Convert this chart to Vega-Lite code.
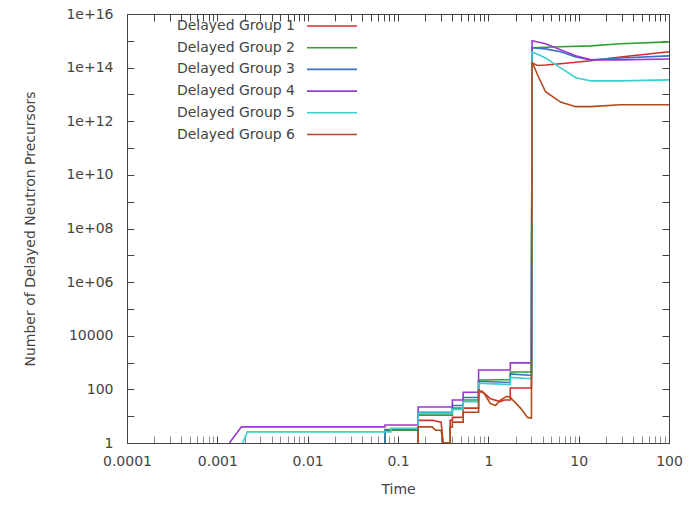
{
  "$schema": "https://vega.github.io/schema/vega-lite/v6.json",
  "width": 542,
  "height": 429,
  "autosize": {"type": "none"},
  "padding": {"left": 127, "top": 14, "right": 26, "bottom": 63},
  "background": "white",
  "config": {
    "view": {"stroke": "#444444", "strokeWidth": 1},
    "font": "DejaVu Sans",
    "axis": {"labelFont": "DejaVu Sans", "titleFont": "DejaVu Sans", "labelColor": "#444444", "titleColor": "#444444", "titleFontWeight": "normal", "labelFontSize": 14, "titleFontSize": 14, "grid": false, "tickColor": "#444444", "domain": false, "labelFlush": false, "labelOverlap": false}
  },
  "data": {"values": [
    {"g":"Delayed Group 1","i":1,"t":0.167,"n":1},
    {"g":"Delayed Group 1","i":2,"t":0.167,"n":7},
    {"g":"Delayed Group 1","i":3,"t":0.24,"n":7},
    {"g":"Delayed Group 1","i":4,"t":0.3,"n":6},
    {"g":"Delayed Group 1","i":5,"t":0.316,"n":1},
    {"g":"Delayed Group 1","i":6,"t":0.378,"n":1},
    {"g":"Delayed Group 1","i":7,"t":0.378,"n":7},
    {"g":"Delayed Group 1","i":8,"t":0.4,"n":7},
    {"g":"Delayed Group 1","i":9,"t":0.4,"n":9},
    {"g":"Delayed Group 1","i":10,"t":0.527,"n":9},
    {"g":"Delayed Group 1","i":11,"t":0.527,"n":20},
    {"g":"Delayed Group 1","i":12,"t":0.78,"n":20},
    {"g":"Delayed Group 1","i":13,"t":0.78,"n":75},
    {"g":"Delayed Group 1","i":14,"t":0.85,"n":85},
    {"g":"Delayed Group 1","i":15,"t":1.05,"n":45},
    {"g":"Delayed Group 1","i":16,"t":1.36,"n":35},
    {"g":"Delayed Group 1","i":17,"t":1.5,"n":40},
    {"g":"Delayed Group 1","i":18,"t":1.75,"n":40},
    {"g":"Delayed Group 1","i":19,"t":1.75,"n":113},
    {"g":"Delayed Group 1","i":20,"t":3.0,"n":113},
    {"g":"Delayed Group 1","i":21,"t":3.05,"n":1.5e14},
    {"g":"Delayed Group 1","i":22,"t":3.5,"n":1.2e14},
    {"g":"Delayed Group 1","i":23,"t":4.3,"n":1.25e14},
    {"g":"Delayed Group 1","i":24,"t":6.3,"n":1.4e14},
    {"g":"Delayed Group 1","i":25,"t":13.6,"n":1.8e14},
    {"g":"Delayed Group 1","i":26,"t":29,"n":2.5e14},
    {"g":"Delayed Group 1","i":27,"t":100,"n":3.9e14},

    {"g":"Delayed Group 2","i":1,"t":0.0718,"n":1},
    {"g":"Delayed Group 2","i":2,"t":0.0718,"n":3},
    {"g":"Delayed Group 2","i":3,"t":0.167,"n":3},
    {"g":"Delayed Group 2","i":4,"t":0.167,"n":11},
    {"g":"Delayed Group 2","i":5,"t":0.4,"n":11},
    {"g":"Delayed Group 2","i":6,"t":0.4,"n":20},
    {"g":"Delayed Group 2","i":7,"t":0.527,"n":20},
    {"g":"Delayed Group 2","i":8,"t":0.527,"n":40},
    {"g":"Delayed Group 2","i":9,"t":0.78,"n":40},
    {"g":"Delayed Group 2","i":10,"t":0.78,"n":225},
    {"g":"Delayed Group 2","i":11,"t":1.3,"n":230},
    {"g":"Delayed Group 2","i":12,"t":1.75,"n":230},
    {"g":"Delayed Group 2","i":13,"t":1.75,"n":446},
    {"g":"Delayed Group 2","i":14,"t":3.0,"n":446},
    {"g":"Delayed Group 2","i":15,"t":3.05,"n":5.5e14},
    {"g":"Delayed Group 2","i":16,"t":6.3,"n":6.0e14},
    {"g":"Delayed Group 2","i":17,"t":13.6,"n":6.5e14},
    {"g":"Delayed Group 2","i":18,"t":29,"n":7.8e14},
    {"g":"Delayed Group 2","i":19,"t":100,"n":9.1e14},

    {"g":"Delayed Group 3","i":1,"t":0.0718,"n":1},
    {"g":"Delayed Group 3","i":2,"t":0.0718,"n":3.2},
    {"g":"Delayed Group 3","i":3,"t":0.167,"n":3.2},
    {"g":"Delayed Group 3","i":4,"t":0.167,"n":14},
    {"g":"Delayed Group 3","i":5,"t":0.4,"n":14},
    {"g":"Delayed Group 3","i":6,"t":0.4,"n":25},
    {"g":"Delayed Group 3","i":7,"t":0.527,"n":25},
    {"g":"Delayed Group 3","i":8,"t":0.527,"n":50},
    {"g":"Delayed Group 3","i":9,"t":0.78,"n":50},
    {"g":"Delayed Group 3","i":10,"t":0.78,"n":200},
    {"g":"Delayed Group 3","i":11,"t":1.75,"n":180},
    {"g":"Delayed Group 3","i":12,"t":1.75,"n":380},
    {"g":"Delayed Group 3","i":13,"t":3.0,"n":330},
    {"g":"Delayed Group 3","i":14,"t":3.05,"n":5.5e14},
    {"g":"Delayed Group 3","i":15,"t":4.3,"n":5.0e14},
    {"g":"Delayed Group 3","i":16,"t":6.3,"n":3.9e14},
    {"g":"Delayed Group 3","i":17,"t":9.3,"n":2.5e14},
    {"g":"Delayed Group 3","i":18,"t":13.6,"n":1.95e14},
    {"g":"Delayed Group 3","i":19,"t":29,"n":2.3e14},
    {"g":"Delayed Group 3","i":20,"t":100,"n":2.75e14},

    {"g":"Delayed Group 4","i":1,"t":0.00136,"n":1},
    {"g":"Delayed Group 4","i":2,"t":0.00185,"n":4},
    {"g":"Delayed Group 4","i":3,"t":0.0718,"n":4},
    {"g":"Delayed Group 4","i":4,"t":0.0718,"n":4.7},
    {"g":"Delayed Group 4","i":5,"t":0.167,"n":4.7},
    {"g":"Delayed Group 4","i":6,"t":0.167,"n":22},
    {"g":"Delayed Group 4","i":7,"t":0.4,"n":22},
    {"g":"Delayed Group 4","i":8,"t":0.4,"n":40},
    {"g":"Delayed Group 4","i":9,"t":0.527,"n":40},
    {"g":"Delayed Group 4","i":10,"t":0.527,"n":78},
    {"g":"Delayed Group 4","i":11,"t":0.78,"n":78},
    {"g":"Delayed Group 4","i":12,"t":0.78,"n":530},
    {"g":"Delayed Group 4","i":13,"t":1.75,"n":530},
    {"g":"Delayed Group 4","i":14,"t":1.75,"n":970},
    {"g":"Delayed Group 4","i":15,"t":3.0,"n":970},
    {"g":"Delayed Group 4","i":16,"t":3.05,"n":1.0e15},
    {"g":"Delayed Group 4","i":17,"t":4.3,"n":7.8e14},
    {"g":"Delayed Group 4","i":18,"t":6.3,"n":4.6e14},
    {"g":"Delayed Group 4","i":19,"t":9.3,"n":2.75e14},
    {"g":"Delayed Group 4","i":20,"t":13.6,"n":1.95e14},
    {"g":"Delayed Group 4","i":21,"t":29,"n":1.95e14},
    {"g":"Delayed Group 4","i":22,"t":100,"n":2.1e14},

    {"g":"Delayed Group 5","i":1,"t":0.0019,"n":1},
    {"g":"Delayed Group 5","i":2,"t":0.00215,"n":2.6},
    {"g":"Delayed Group 5","i":3,"t":0.0836,"n":2.6},
    {"g":"Delayed Group 5","i":4,"t":0.0836,"n":3.5},
    {"g":"Delayed Group 5","i":5,"t":0.167,"n":3.5},
    {"g":"Delayed Group 5","i":6,"t":0.167,"n":13},
    {"g":"Delayed Group 5","i":7,"t":0.4,"n":13},
    {"g":"Delayed Group 5","i":8,"t":0.4,"n":18},
    {"g":"Delayed Group 5","i":9,"t":0.527,"n":18},
    {"g":"Delayed Group 5","i":10,"t":0.527,"n":35},
    {"g":"Delayed Group 5","i":11,"t":0.78,"n":35},
    {"g":"Delayed Group 5","i":12,"t":0.78,"n":170},
    {"g":"Delayed Group 5","i":13,"t":1.75,"n":150},
    {"g":"Delayed Group 5","i":14,"t":1.75,"n":280},
    {"g":"Delayed Group 5","i":15,"t":3.0,"n":250},
    {"g":"Delayed Group 5","i":16,"t":3.05,"n":3.9e14},
    {"g":"Delayed Group 5","i":17,"t":4.3,"n":2.3e14},
    {"g":"Delayed Group 5","i":18,"t":6.3,"n":9.8e13},
    {"g":"Delayed Group 5","i":19,"t":9.3,"n":4.2e13},
    {"g":"Delayed Group 5","i":20,"t":13.6,"n":3.2e13},
    {"g":"Delayed Group 5","i":21,"t":29,"n":3.2e13},
    {"g":"Delayed Group 5","i":22,"t":100,"n":3.5e13},

    {"g":"Delayed Group 6","i":1,"t":0.167,"n":1},
    {"g":"Delayed Group 6","i":2,"t":0.167,"n":4},
    {"g":"Delayed Group 6","i":3,"t":0.239,"n":4},
    {"g":"Delayed Group 6","i":4,"t":0.26,"n":3},
    {"g":"Delayed Group 6","i":5,"t":0.3,"n":3},
    {"g":"Delayed Group 6","i":6,"t":0.316,"n":1},
    {"g":"Delayed Group 6","i":7,"t":0.378,"n":1},
    {"g":"Delayed Group 6","i":8,"t":0.378,"n":4},
    {"g":"Delayed Group 6","i":9,"t":0.4,"n":4},
    {"g":"Delayed Group 6","i":10,"t":0.4,"n":6},
    {"g":"Delayed Group 6","i":11,"t":0.527,"n":6},
    {"g":"Delayed Group 6","i":12,"t":0.527,"n":14},
    {"g":"Delayed Group 6","i":13,"t":0.78,"n":14},
    {"g":"Delayed Group 6","i":14,"t":0.78,"n":95},
    {"g":"Delayed Group 6","i":15,"t":0.9,"n":70},
    {"g":"Delayed Group 6","i":16,"t":1.05,"n":30},
    {"g":"Delayed Group 6","i":17,"t":1.2,"n":25},
    {"g":"Delayed Group 6","i":18,"t":1.36,"n":40},
    {"g":"Delayed Group 6","i":19,"t":1.6,"n":55},
    {"g":"Delayed Group 6","i":20,"t":1.75,"n":50},
    {"g":"Delayed Group 6","i":21,"t":2.27,"n":20},
    {"g":"Delayed Group 6","i":22,"t":2.71,"n":9},
    {"g":"Delayed Group 6","i":23,"t":3.0,"n":8.5},
    {"g":"Delayed Group 6","i":24,"t":3.05,"n":1.66e14},
    {"g":"Delayed Group 6","i":25,"t":3.5,"n":5.4e13},
    {"g":"Delayed Group 6","i":26,"t":4.3,"n":1.26e13},
    {"g":"Delayed Group 6","i":27,"t":6.3,"n":5.2e12},
    {"g":"Delayed Group 6","i":28,"t":9.3,"n":3.5e12},
    {"g":"Delayed Group 6","i":29,"t":13.6,"n":3.5e12},
    {"g":"Delayed Group 6","i":30,"t":29,"n":4.1e12},
    {"g":"Delayed Group 6","i":31,"t":100,"n":4.1e12}
  ]},
  "resolve": {"axis": {"x": "independent", "y": "independent"}},
  "layer": [
    {
      "mark": {"type": "line", "strokeWidth": 1.6, "clip": true, "interpolate": "linear"},
      "encoding": {
        "x": {"field": "t", "type": "quantitative", "scale": {"type": "log", "domain": [0.0001, 100], "nice": false},
          "axis": {"orient": "bottom", "tickSize": -7, "labelPadding": 18, "title": "Time", "titlePadding": 14,
            "values": [0.0001,0.0002,0.0003,0.0004,0.0005,0.0006,0.0007,0.0008,0.0009,0.001,0.002,0.003,0.004,0.005,0.006,0.007,0.008,0.009,0.01,0.02,0.03,0.04,0.05,0.06,0.07,0.08,0.09,0.1,0.2,0.3,0.4,0.5,0.6,0.7,0.8,0.9,1,2,3,4,5,6,7,8,9,10,20,30,40,50,60,70,80,90,100],
            "tickOpacity": {"condition": {"test": "abs(log(datum.value)/LN10 - round(log(datum.value)/LN10)) < 0.001", "value": 1}, "value": 0.6},
            "labelExpr": "abs(log(datum.value)/LN10 - round(log(datum.value)/LN10)) > 0.001 ? '' : datum.value < 0.00015 ? '0.0001' : datum.value < 0.0015 ? '0.001' : datum.value < 0.015 ? '0.01' : datum.value < 0.15 ? '0.1' : datum.value < 1.5 ? '1' : datum.value < 15 ? '10' : '100'"}},
        "y": {"field": "n", "type": "quantitative", "scale": {"type": "log", "domain": [1, 1e16], "nice": false},
          "axis": {"orient": "left", "tickSize": -7, "labelPadding": 21, "title": "Number of Delayed Neutron Precursors", "titlePadding": 28,
            "values": [1,10,100,1000,10000,1e5,1e6,1e7,1e8,1e9,1e10,1e11,1e12,1e13,1e14,1e15,1e16],
            "labelExpr": "round(log(datum.value)/LN10) % 2 != 0 ? '' : datum.value < 1e5 ? format(datum.value, 'd') : (round(log(datum.value)/LN10) < 10 ? '1e+0' + round(log(datum.value)/LN10) : '1e+' + round(log(datum.value)/LN10))"}},
        "color": {"field": "g", "type": "nominal",
          "scale": {"domain": ["Delayed Group 1","Delayed Group 2","Delayed Group 3","Delayed Group 4","Delayed Group 5","Delayed Group 6"],
                    "range": ["#d0302a","#30a030","#3a72c0","#9a38d0","#38d0d0","#b04a18"]},
          "legend": {"title": null, "orient": "none", "legendX": 198, "legendY": 5, "symbolType": "M-5,0L5,0", "symbolSize": 100, "symbolStrokeWidth": 1.6, "symbolFillColor": "transparent",
            "labelAlign": "right", "labelOffset": -44, "labelFont": "DejaVu Sans", "labelFontSize": 14, "labelColor": "#444444", "rowPadding": 7.7, "labelLimit": 300}},
        "order": {"field": "i", "type": "quantitative"}
      }
    },
    {
      "mark": {"type": "point", "opacity": 0, "size": 1},
      "encoding": {
        "x": {"field": "t", "type": "quantitative", "scale": {"type": "log", "domain": [0.0001, 100], "nice": false},
          "axis": {"orient": "top", "labels": false, "title": null, "tickSize": -7,
            "values": [0.0001,0.0002,0.0003,0.0004,0.0005,0.0006,0.0007,0.0008,0.0009,0.001,0.002,0.003,0.004,0.005,0.006,0.007,0.008,0.009,0.01,0.02,0.03,0.04,0.05,0.06,0.07,0.08,0.09,0.1,0.2,0.3,0.4,0.5,0.6,0.7,0.8,0.9,1,2,3,4,5,6,7,8,9,10,20,30,40,50,60,70,80,90,100]}},
        "y": {"field": "n", "type": "quantitative", "scale": {"type": "log", "domain": [1, 1e16], "nice": false},
          "axis": {"orient": "right", "labels": false, "title": null, "tickSize": -7,
            "values": [1,10,100,1000,10000,1e5,1e6,1e7,1e8,1e9,1e10,1e11,1e12,1e13,1e14,1e15,1e16]}}
      }
    }
  ]
}
